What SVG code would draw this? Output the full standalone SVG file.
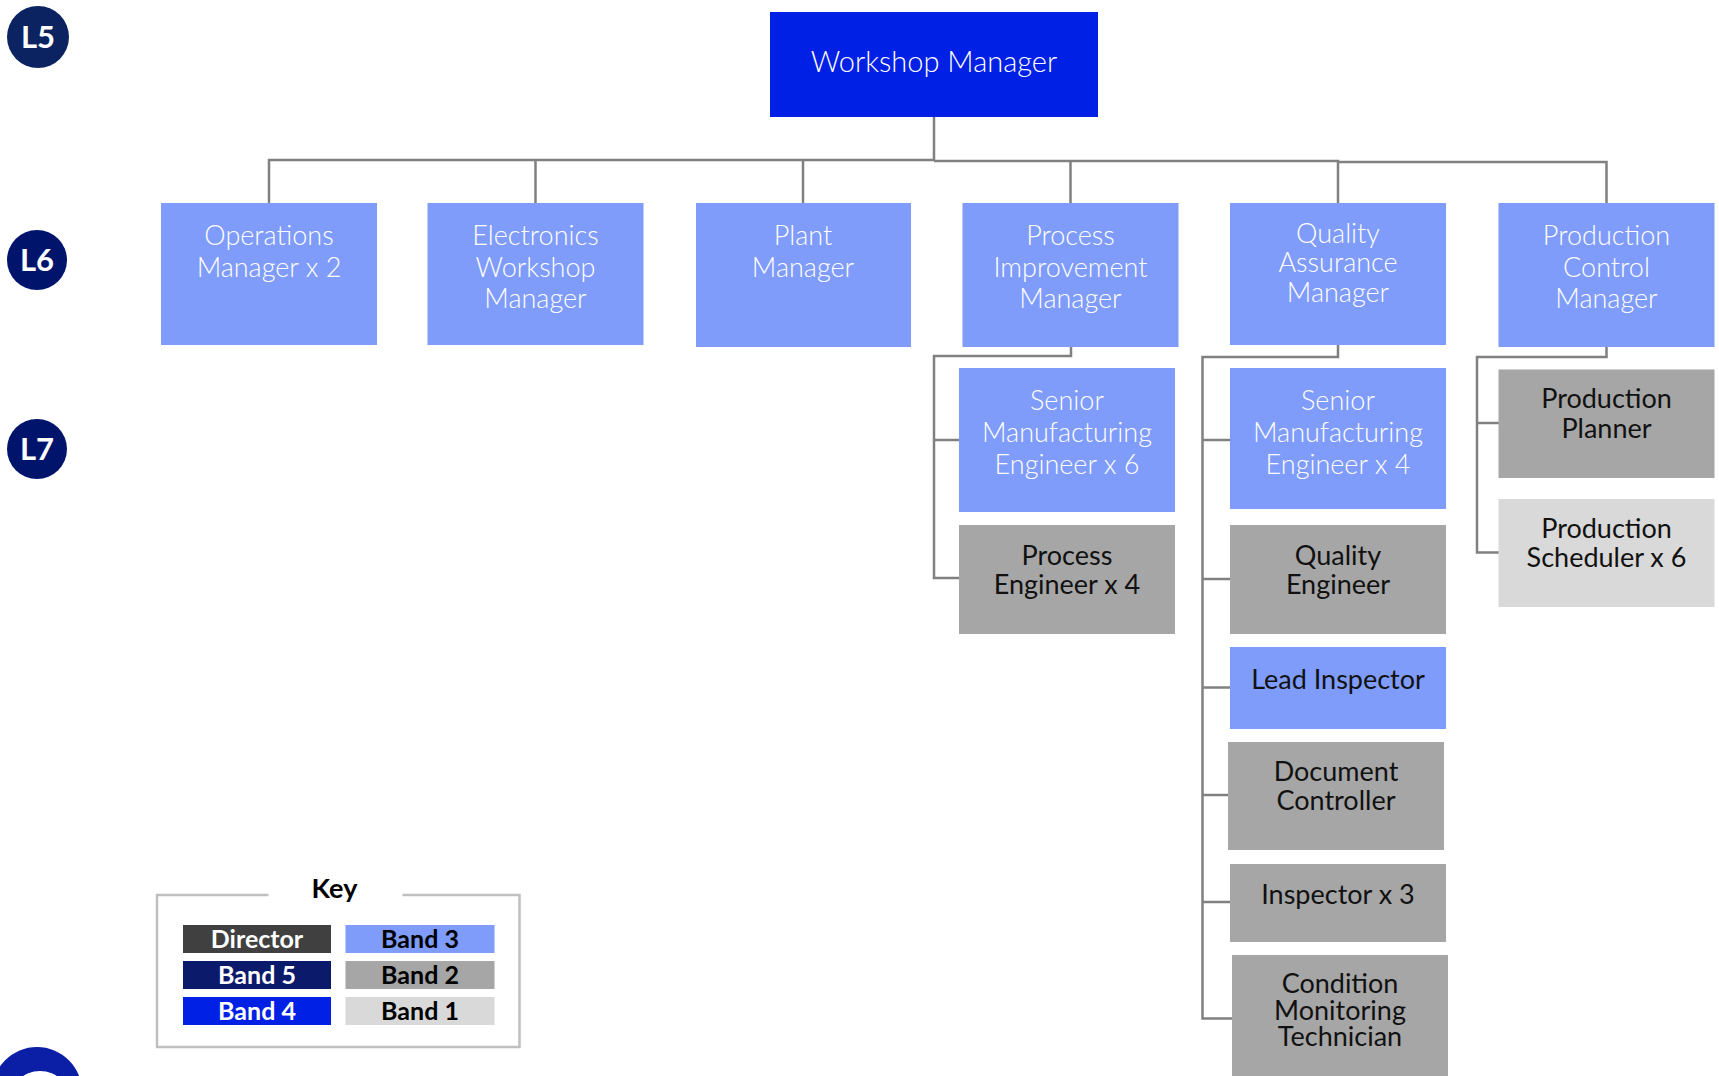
<svg xmlns="http://www.w3.org/2000/svg" width="1719" height="1076" viewBox="0 0 1719 1076">
<style>
text{font-family:Lato,"Open Sans","Liberation Sans",sans-serif;text-anchor:middle}
.b5{fill:#0c1a6b}
.b4{fill:#0020e6}
.b3{fill:#7f9cfb}
.b2{fill:#a6a6a6}
.b1{fill:#d9d9d9}
.dir{fill:#404040}
.tw{fill:#ffffff;font-size:27px;font-weight:300}
.tk{fill:#111111;font-size:27px}
.lvl{fill:#ffffff;font-size:31px;font-weight:bold}
.key{font-size:25px;font-weight:bold}
.conn{fill:none;stroke:#808080;stroke-width:2.5}
</style>
<rect width="1719" height="1076" fill="#ffffff"/>
<g id="levels">
<g id="L5"><circle cx="38" cy="37" r="31" fill="#0b2361"/><text class="lvl" x="38" y="48">L5</text></g>
<g id="L6"><circle cx="37" cy="260" r="30" fill="#00146c"/><text class="lvl" x="37" y="271">L6</text></g>
<g id="L7"><circle cx="37" cy="449" r="30" fill="#00146c"/><text class="lvl" x="37" y="460">L7</text></g>
<g id="L8"><circle cx="37" cy="1092" r="45" fill="#0a1ea6"/><circle cx="40" cy="1102" r="31" fill="#ffffff"/></g>
</g>
<g id="connectors">
<path class="conn" d="M934 117V160"/>
<path class="conn" d="M269 203V160H934"/>
<path class="conn" d="M535.5 203V160"/>
<path class="conn" d="M803 203V160"/>
<path class="conn" d="M934 161H1338V203"/>
<path class="conn" d="M1070.5 203V161"/>
<path class="conn" d="M1338 162H1606.5V203"/>
<path class="conn" d="M1071 345V356H934V578H959"/>
<path class="conn" d="M934 440H959"/>
<path class="conn" d="M1338 344V357H1202.5V1018.5H1232"/>
<path class="conn" d="M1202.5 440H1230"/>
<path class="conn" d="M1202.5 579H1230"/>
<path class="conn" d="M1202.5 687.5H1230"/>
<path class="conn" d="M1202.5 795H1228"/>
<path class="conn" d="M1202.5 902H1230"/>
<path class="conn" d="M1606.5 346V357H1477V552.5H1499"/>
<path class="conn" d="M1477 423H1499"/>
</g>
<g id="workshop-manager"><rect class="b4" x="770" y="12" width="328" height="105"/><text class="tw" x="934" y="72" style="font-size:29px">Workshop Manager</text></g>
<g id="operations-manager"><rect class="b3" x="161" y="203" width="216" height="142"/><text class="tw" x="269" y="245">Operations</text><text class="tw" x="269" y="277">Manager x 2</text></g>
<g id="electronics-workshop-manager"><rect class="b3" x="427.5" y="203" width="216" height="142"/><text class="tw" x="535.5" y="245">Electronics</text><text class="tw" x="535.5" y="277">Workshop</text><text class="tw" x="535.5" y="308">Manager</text></g>
<g id="plant-manager"><rect class="b3" x="696" y="203" width="215" height="144"/><text class="tw" x="803" y="245">Plant</text><text class="tw" x="803" y="277">Manager</text></g>
<g id="process-improvement-manager"><rect class="b3" x="962.5" y="203" width="216" height="144"/><text class="tw" x="1070.5" y="245">Process</text><text class="tw" x="1070.5" y="277">Improvement</text><text class="tw" x="1070.5" y="308">Manager</text></g>
<g id="quality-assurance-manager"><rect class="b3" x="1230" y="203" width="216" height="142"/><text class="tw" x="1338" y="243">Quality</text><text class="tw" x="1338" y="272">Assurance</text><text class="tw" x="1338" y="302">Manager</text></g>
<g id="production-control-manager"><rect class="b3" x="1498.5" y="203" width="216" height="144"/><text class="tw" x="1606.5" y="245">Production</text><text class="tw" x="1606.5" y="277">Control</text><text class="tw" x="1606.5" y="308">Manager</text></g>
<g id="senior-mfg-engineer-6"><rect class="b3" x="959" y="368" width="216" height="144"/><text class="tw" x="1067" y="410">Senior</text><text class="tw" x="1067" y="442">Manufacturing</text><text class="tw" x="1067" y="474">Engineer x 6</text></g>
<g id="process-engineer"><rect class="b2" x="959" y="525" width="216" height="109"/><text class="tk" x="1067" y="565">Process</text><text class="tk" x="1067" y="594">Engineer x 4</text></g>
<g id="senior-mfg-engineer-4"><rect class="b3" x="1230" y="368" width="216" height="141"/><text class="tw" x="1338" y="410">Senior</text><text class="tw" x="1338" y="442">Manufacturing</text><text class="tw" x="1338" y="474">Engineer x 4</text></g>
<g id="quality-engineer"><rect class="b2" x="1230" y="525" width="216" height="109"/><text class="tk" x="1338" y="565">Quality</text><text class="tk" x="1338" y="594">Engineer</text></g>
<g id="lead-inspector"><rect class="b3" x="1230" y="647" width="216" height="82"/><text class="tk" x="1338" y="689">Lead Inspector</text></g>
<g id="document-controller"><rect class="b2" x="1228" y="742" width="216" height="108"/><text class="tk" x="1336" y="781">Document</text><text class="tk" x="1336" y="810">Controller</text></g>
<g id="inspector"><rect class="b2" x="1230" y="864" width="216" height="78"/><text class="tk" x="1338" y="904">Inspector x 3</text></g>
<g id="condition-monitoring-technician"><rect class="b2" x="1232" y="955" width="216" height="121"/><text class="tk" x="1340" y="993">Condition</text><text class="tk" x="1340" y="1020">Monitoring</text><text class="tk" x="1340" y="1046">Technician</text></g>
<g id="production-planner"><rect class="b2" x="1498.5" y="369.5" width="216" height="108.5"/><text class="tk" x="1606.5" y="408">Production</text><text class="tk" x="1606.5" y="438">Planner</text></g>
<g id="production-scheduler"><rect class="b1" x="1498.5" y="499" width="216" height="108"/><text class="tk" x="1606.5" y="538">Production</text><text class="tk" x="1606.5" y="567">Scheduler x 6</text></g>
<g id="key">
<path d="M268.5 895H157V1047H519.5V895H402.5" fill="none" stroke="#bfbfbf" stroke-width="2.5"/>
<text x="334.5" y="898" style="font-size:27px;font-weight:bold;fill:#000">Key</text>
<rect class="dir" x="183" y="925" width="148" height="28"/><text class="key" x="257" y="948" fill="#fff">Director</text>
<rect class="b5" x="183" y="961" width="148" height="28"/><text class="key" x="257" y="984" fill="#fff">Band 5</text>
<rect class="b4" x="183" y="997" width="148" height="28"/><text class="key" x="257" y="1020" fill="#fff">Band 4</text>
<rect class="b3" x="345.5" y="925" width="149" height="28"/><text class="key" x="420" y="948" fill="#000">Band 3</text>
<rect class="b2" x="345.5" y="961" width="149" height="28"/><text class="key" x="420" y="984" fill="#000">Band 2</text>
<rect class="b1" x="345.5" y="997" width="149" height="28"/><text class="key" x="420" y="1020" fill="#000">Band 1</text>
</g>
</svg>
